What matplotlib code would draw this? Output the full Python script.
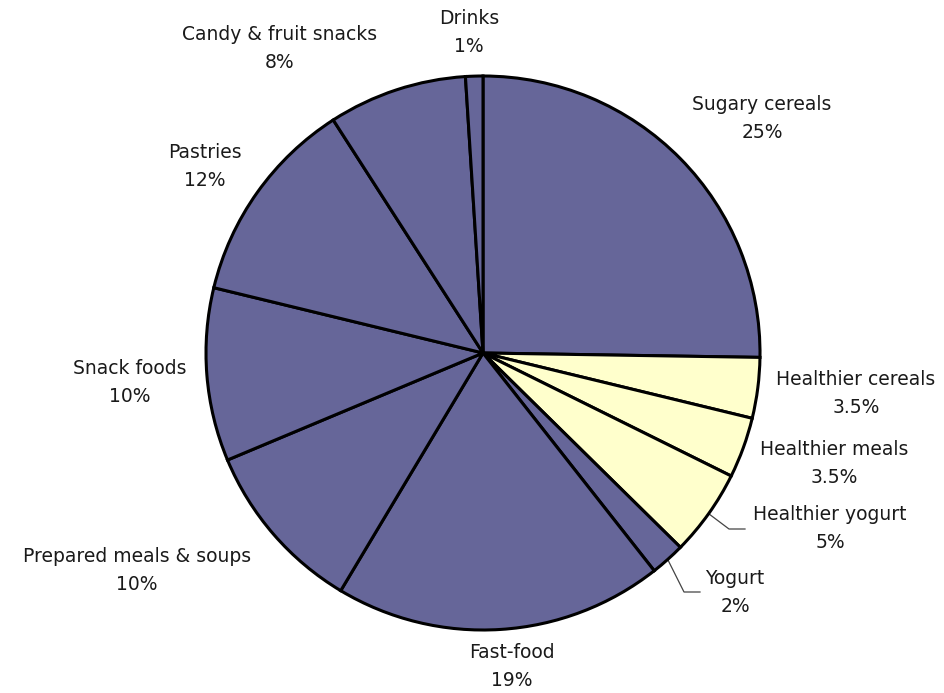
import numpy as np
import matplotlib
matplotlib.use("Agg")
from matplotlib import pyplot as plt

categories = ["Sugary cereals", "Healthier cereals", "Healthier meals", "Healthier yogurt",
              "Yogurt", "Fast-food", "Prepared meals & soups", "Snack foods", "Pastries",
              "Candy & fruit snacks", "Drinks"]
shares = [25, 3.5, 3.5, 5, 2, 19, 10, 10, 12, 8, 1]
share_labels = ["25%", "3.5%", "3.5%", "5%", "2%", "19%", "10%", "10%", "12%", "8%", "1%"]
healthier = [False, True, True, True, False, False, False, False, False, False, False]

PURPLE = "#666699"
YELLOW = "#FFFFCC"
TEXT = "#1a1a1a"

# pixel layout of the reference: centre (483, 353), radius 277
W, H = 945, 693
cx, cy, R = 483, 353, 277.0

# label centres in pixels (x, y from top)
label_px = [(762, 118), (856, 393), (834, 463), (830, 529), (735, 592), (512, 667),
            (137, 570), (130, 382), (205, 167), (280, 49), (469, 32)]
# leader ends (pixels left of label centre) for the two crowded labels
leader_gap = {3: 85, 4: 35}

fig = plt.figure(figsize=(W / 100, H / 100), dpi=100)
ax = fig.add_axes([0, 0, 1, 1])

colors = [YELLOW if h else PURPLE for h in healthier]
wedges, _ = ax.pie(shares, colors=colors, startangle=90, counterclock=False,
                   wedgeprops=dict(edgecolor="black", linewidth=2.2))

ax.set_xlim(-cx / R, (W - cx) / R)
ax.set_ylim(-(H - cy) / R, cy / R)
ax.set_aspect("auto")
ax.axis("off")

def to_data(px, py):
    return (px - cx) / R, (cy - py) / R

for i, (name, lab) in enumerate(zip(categories, share_labels)):
    tx, ty = to_data(*label_px[i])
    ax.text(tx, ty, name + "\n" + lab, ha="center", va="center", fontsize=13.5,
            color=TEXT, linespacing=1.6, family="DejaVu Sans")
    if i in leader_gap:
        w = wedges[i]
        mid = np.deg2rad((w.theta1 + w.theta2) / 2)
        x0, y0 = np.cos(mid), np.sin(mid)
        ex = tx - leader_gap[i] / R
        ey = ty
        kx = ex - 16 / R
        ax.plot([x0, kx, ex], [y0, ey, ey], color="#444444", linewidth=0.9, zorder=0)

fig.savefig("out.png", dpi=100)
